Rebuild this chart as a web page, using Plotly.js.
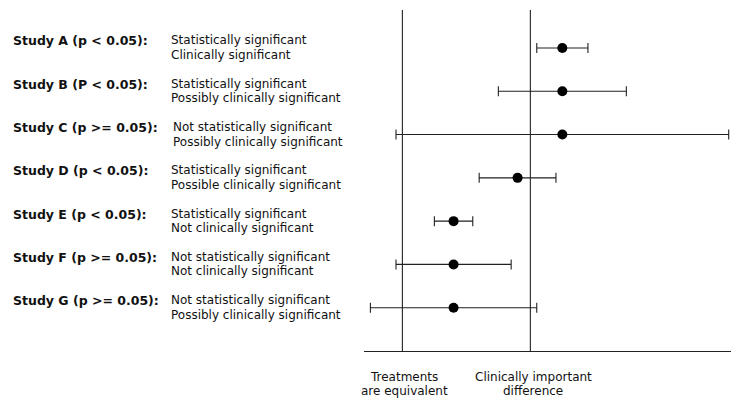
<!DOCTYPE html>
<html>
<head>
<meta charset="utf-8">
<script src="https://cdn.plot.ly/plotly-3.0.1.min.js"></script>
<style>html,body{margin:0;padding:0;background:#fff;}#chart{width:731px;height:398px;}</style>
</head>
<body>
<div id="chart"></div>
<script>
// ---- data ----
const studies = ["Study A (p < 0.05):", "Study B (P < 0.05):", "Study C (p >= 0.05):", "Study D (p < 0.05):", "Study E (p < 0.05):", "Study F (p >= 0.05):", "Study G (p >= 0.05):"];
const descLine1 = ["Statistically significant", "Statistically significant", "Not statistically significant", "Statistically significant", "Statistically significant", "Not statistically significant", "Not statistically significant"];
const descLine2 = ["Clinically significant", "Possibly clinically significant", "Possibly clinically significant", "Possible clinically significant", "Not clinically significant", "Not clinically significant", "Possibly clinically significant"];
const estimate = [1.25, 1.25, 1.25, 0.90, 0.40, 0.40, 0.40];
const ciLow    = [1.05, 0.75, -0.05, 0.60, 0.25, -0.05, -0.25];
const ciHigh   = [1.45, 1.75, 2.55, 1.20, 0.55, 0.85, 1.05];
const refValues = [0, 1];
const refLabel1 = ["Treatments", "Clinically important"];
const refLabel2 = ["are equivalent", "difference"];

// ---- build ----
const rows = studies.map((s, i) => i);
const lineColor = "#222";
const trace = {
  type: "scatter",
  mode: "markers",
  x: estimate,
  y: rows,
  marker: {color: "#000", size: 10},
  error_x: {
    type: "data",
    symmetric: false,
    array: estimate.map((v, i) => ciHigh[i] - v),
    arrayminus: estimate.map((v, i) => v - ciLow[i]),
    color: lineColor,
    thickness: 1.1,
    width: 5
  },
  hoverinfo: "skip",
  showlegend: false
};

const annotations = [];
const labelFont = {family: "DejaVu Sans, Verdana, sans-serif", size: 12.5, color: "#111"};
const descFont = {family: "DejaVu Sans, Verdana, sans-serif", size: 12, color: "#111"};
studies.forEach((s, i) => {
  annotations.push({xref: "paper", yref: "y", x: 0, y: i, xanchor: "left", yanchor: "middle",
    xshift: -353, yshift: 7, text: "<b>" + s + "</b>", showarrow: false, font: labelFont});
  const dx = (i === 2) ? -193 : -195;
  annotations.push({xref: "paper", yref: "y", x: 0, y: i, xanchor: "left", yanchor: "middle",
    xshift: dx, yshift: 7.5, text: descLine1[i], showarrow: false, font: descFont});
  annotations.push({xref: "paper", yref: "y", x: 0, y: i, xanchor: "left", yanchor: "middle",
    xshift: dx, yshift: -7, text: descLine2[i], showarrow: false, font: descFont});
});
refValues.forEach((v, i) => {
  const xs = i === 1 ? 3 : 2;
  annotations.push({xref: "x", yref: "paper", x: v, y: 0, xanchor: "center", yanchor: "middle",
    xshift: xs, yshift: -26, text: refLabel1[i], showarrow: false, font: descFont});
  annotations.push({xref: "x", yref: "paper", x: v, y: 0, xanchor: "center", yanchor: "middle",
    xshift: xs, yshift: -39.5, text: refLabel2[i], showarrow: false, font: descFont});
});

const shapes = refValues.map(v => ({
  type: "line", xref: "x", yref: "paper", x0: v, x1: v, y0: 0, y1: 1,
  line: {color: lineColor, width: 1.1}
}));

const layout = {
  width: 731, height: 398,
  margin: {l: 364, r: 0, t: 10, b: 47},
  paper_bgcolor: "#fff", plot_bgcolor: "#fff",
  xaxis: {range: [-0.3, 2.568], showgrid: false, zeroline: false, showticklabels: false, ticks: "",
    showline: true, linecolor: lineColor, linewidth: 1.1, fixedrange: true},
  yaxis: {range: [7, -0.877], showgrid: false, zeroline: false, showticklabels: false, ticks: "",
    showline: false, fixedrange: true},
  shapes: shapes,
  annotations: annotations
};

Plotly.newPlot("chart", [trace], layout, {displayModeBar: false, staticPlot: true});
</script>
</body>
</html>
